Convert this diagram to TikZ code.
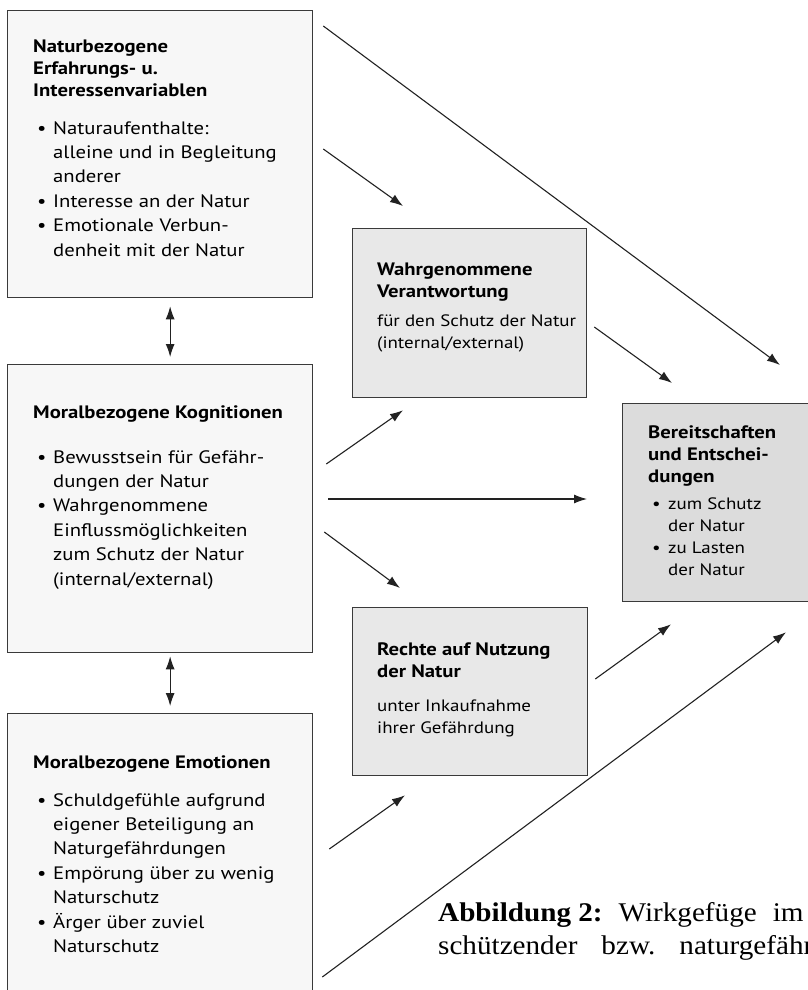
\documentclass[tikz,border=0pt]{standalone}
\usepackage{fontspec}
\setmainfont[FakeStretch=1.15]{PT Sans}
\newfontfamily\capfont[FakeStretch=1.08]{Liberation Serif}
\usetikzlibrary{arrows.meta}

\definecolor{rahmen}{HTML}{3A3A3A}
\definecolor{hell}{HTML}{F7F7F7}
\definecolor{mittel}{HTML}{E8E8E8}
\definecolor{dunkel}{HTML}{DCDCDC}
\definecolor{linie}{HTML}{222222}

\newcommand{\pkt}{\makebox[16pt][l]{\textbullet}}
\newcommand{\einr}{\hspace*{16pt}}

\begin{document}
\begin{tikzpicture}[x=1pt,y=-1pt,
    kasten/.style={draw=rahmen, line width=1.3pt, anchor=north west, inner sep=0pt},
    titel/.style={anchor=north west, inner sep=0pt, align=left, font=\bfseries\fontsize{18}{22}\selectfont},
    liste/.style={anchor=north west, inner sep=0pt, align=left, font=\fontsize{18}{24.4}\selectfont},
    zusatz/.style={anchor=north west, inner sep=0pt, align=left, font=\fontsize{16.5}{22}\selectfont},
    pfeil/.style={-{Latex[length=13pt,width=9pt]}, line width=1.1pt, draw=linie},
    doppel/.style={{Latex[length=13pt,width=9pt]}-{Latex[length=13pt,width=9pt]}, line width=1.1pt, draw=linie}]

  \useasboundingbox (0,0) rectangle (808,990);
  \clip (0,0) rectangle (808,990);
  \fill[white] (0,0) rectangle (808,990);

  % Kaesten links
  \node[kasten, fill=hell, minimum width=305pt, minimum height=287pt] (natur) at (7,10) {};
  \node[kasten, fill=hell, minimum width=305pt, minimum height=288pt] (kogn) at (7,364) {};
  \node[kasten, fill=hell, minimum width=305pt, minimum height=300pt] (emo) at (7,713) {};

  % Kaesten Mitte und rechts
  \node[kasten, fill=mittel, minimum width=234pt, minimum height=169pt] (verant) at (352,228) {};
  \node[kasten, fill=mittel, minimum width=235pt, minimum height=168pt] (rechte) at (352,607) {};
  \node[kasten, fill=dunkel, minimum width=200pt, minimum height=198pt] (bereit) at (622,403) {};

  % Texte
  \node[titel] (naturtitel) at ([shift={(26,30)}]natur.north west)
    {Naturbezogene\\Erfahrungs- u.\\Interessenvariablen};
  \node[liste] (naturliste) at ([shift={(30,111)}]natur.north west)
    {\pkt Naturaufenthalte:\\\einr alleine und in Begleitung\\\einr anderer\\
     \pkt Interesse an der Natur\\\pkt Emotionale Verbun-\\\einr denheit mit der Natur};

  \node[titel] (kogntitel) at ([shift={(26,41)}]kogn.north west)
    {Moralbezogene Kognitionen};
  \node[liste] (kognliste) at ([shift={(30,86)}]kogn.north west)
    {\pkt Bewusstsein für Gefähr-\\\einr dungen der Natur\\\pkt Wahrgenommene\\
     \einr Einflussmöglichkeiten\\\einr zum Schutz der Natur\\\einr (internal/external)};

  \node[titel] (emotitel) at ([shift={(26,42)}]emo.north west)
    {Moralbezogene Emotionen};
  \node[liste] (emoliste) at ([shift={(30,80)}]emo.north west)
    {\pkt Schuldgefühle aufgrund\\\einr eigener Beteiligung an\\\einr Naturgefährdungen\\
     \pkt Empörung über zu wenig\\\einr Naturschutz\\\pkt Ärger über zuviel\\\einr Naturschutz};

  \node[titel] (veranttitel) at ([shift={(25,35)}]verant.north west)
    {Wahrgenommene\\Verantwortung};
  \node[zusatz] (verantzusatz) at ([shift={(25,87)}]verant.north west)
    {für den Schutz der Natur\\(internal/external)};

  \node[titel] (rechtetitel) at ([shift={(25,36)}]rechte.north west)
    {Rechte auf Nutzung\\der Natur};
  \node[zusatz] (rechtezusatz) at ([shift={(25,93)}]rechte.north west)
    {unter Inkaufnahme\\ihrer Gefährdung};

  \node[titel] (bereittitel) at ([shift={(26,22)}]bereit.north west)
    {Bereitschaften\\und Entschei-\\dungen};
  \node[zusatz] (bereitliste) at ([shift={(30,95)}]bereit.north west)
    {\pkt zum Schutz\\\einr der Natur\\\pkt zu Lasten\\\einr der Natur};

  % Pfeile
  \draw[pfeil] ([shift={(10,16)}]natur.north east) -- ([shift={(158,-38)}]bereit.north west);
  \draw[pfeil] ([shift={(10,139)}]natur.north east) -- ([shift={(51,-22)}]verant.north west);
  \draw[pfeil] ([shift={(7,99)}]verant.north east) -- ([shift={(50,-20)}]bereit.north west);
  \draw[doppel] ([shift={(10,8)}]natur.south) -- ([shift={(10,-7)}]kogn.north);
  \draw[pfeil] ([shift={(13,100)}]kogn.north east) -- ([shift={(51,12)}]verant.south west);
  \draw[pfeil] ([shift={(15,135)}]kogn.north east) -- ([shift={(-35,96)}]bereit.north west);
  \draw[pfeil] ([shift={(11,168)}]kogn.north east) -- ([shift={(48,-19)}]rechte.north west);
  \draw[pfeil] ([shift={(7,72)}]rechte.north east) -- ([shift={(49,22)}]bereit.south west);
  \draw[doppel] ([shift={(10,3)}]kogn.south) -- ([shift={(10,-7)}]emo.north);
  \draw[pfeil] ([shift={(16,136)}]emo.north east) -- ([shift={(53,19)}]rechte.south west);
  \draw[pfeil] ([shift={(9,264)}]emo.north east) -- ([shift={(164,30)}]bereit.south west);

  % Bildunterschrift
  \node[anchor=base west, inner sep=0pt, align=left, font=\capfont\fontsize{27}{33}\selectfont]
    (unterschrift) at (438,954)
    {\textbf{Abbildung 2:}\hspace{16pt}Wirkgefüge\hspace{16pt}im\\
     schützender\hspace{24pt}bzw.\hspace{24pt}naturgefährdender};
\end{tikzpicture}
\end{document}
